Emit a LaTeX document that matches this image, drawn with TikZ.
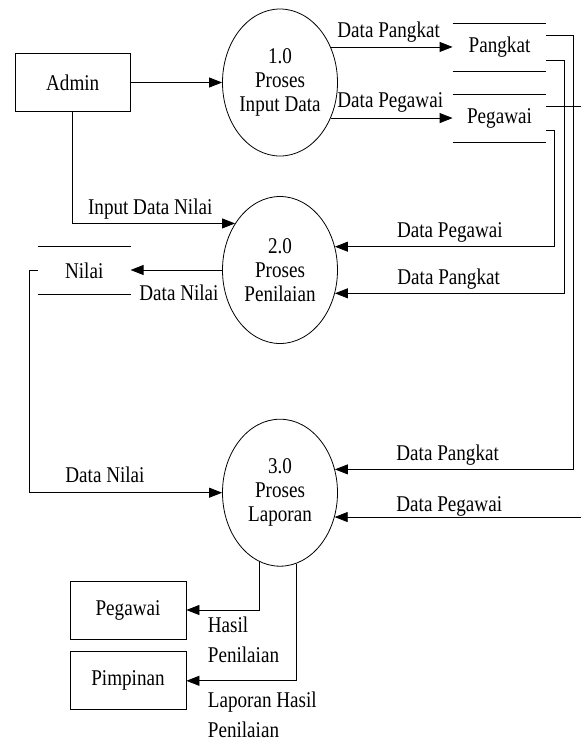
\documentclass[tikz,border=0pt]{standalone}
\usepackage{fontspec}
\setmainfont{Liberation Serif}[FakeStretch=0.85]
\usetikzlibrary{shapes,arrows.meta,positioning}

\begin{document}
\begin{tikzpicture}[x=1pt,y=-1pt,line width=0.8pt,
  >={Triangle[length=13pt,width=10pt]},
  font=\fontsize{22.5}{24}\selectfont,
  entity/.style={draw,minimum width=115pt,minimum height=58pt,inner sep=0pt},
  process/.style={draw,ellipse,minimum width=115pt,minimum height=147pt,inner sep=0pt,align=center},
  store/.style={minimum width=93pt,minimum height=47pt,inner sep=0pt}]
  \tikzstyle{lbl} = [anchor=base west,inner sep=0pt]
  \tikzstyle{lbl2} = [anchor=north west,inner sep=0pt,align=left,font=\fontsize{22.5}{30}\selectfont]
  \useasboundingbox (0,0) rectangle (581,740);
  % entities and processes
  \node (admin) [entity] at (72.7,82.5) {Admin};
  \node (proses1) [process] at (280,82.5) {1.0\\Proses\\Input Data};
  \node (proses2) [process] at (280,270) {2.0\\Proses\\Penilaian};
  \node (proses3) [process] at (280,492.7) {3.0\\Proses\\Laporan};
  \node (pegawaiB) [entity,minimum width=116pt] at (128,610) {Pegawai};
  \node (pimpinan) [entity,minimum width=116pt,below=12pt of pegawaiB] {Pimpinan};
  % data stores
  \node (pangkat) [store] at (499.5,47.5) {Pangkat};
  \node (pegawai) [store,below=23pt of pangkat] {Pegawai};
  \node (nilai) [store,minimum width=92pt] at (84.2,270.5) {Nilai};
  \foreach \s in {pangkat,pegawai,nilai}
    \draw (\s.north west) -- (\s.north east) (\s.south west) -- (\s.south east);
  % flows
  \draw[->] (admin) -- (proses1);
  \draw[->] (proses1.35) -- (proses1.35 -| pangkat.west);
  \draw[->] (proses1.-35) -- (proses1.-35 -| pegawai.west);
  \draw[->] (admin.south) |- (proses2.134);
  \draw[->] (proses2.west) -- (proses2.west -| nilai.east);
  \draw[->] ([yshift=-12pt]pegawai.east) -- ++(8.3,0) |- (proses2.23);
  \draw[->] ([yshift=-12.5pt]pangkat.east) -- ++(17.5,0) |- (proses2.-23);
  \draw[->] ([yshift=12.5pt]pangkat.east) -- ++(27,0) |- (proses3.23);
  \draw[->] ([yshift=11.5pt]pegawai.east) -- ++(34.5,0) |- (proses3.-24);
  \draw[->] (nilai.west) -- ++(-8.3,0) |- (proses3.west);
  \draw[->] (proses3.253) |- (pegawaiB.east);
  \draw[->] (proses3.283) |- (pimpinan.east);
  % flow labels
  \node (lDataPangkat1) [lbl] at (337,37) {Data Pangkat};
  \node (lDataPegawai1) [lbl] at (337,107.3) {Data Pegawai};
  \node (lInputNilai) [lbl] at (87.7,214) {Input Data Nilai};
  \node (lDataNilai1) [lbl] at (139,300.7) {Data Nilai};
  \node (lDataPegawai2) [lbl] at (396.7,237) {Data Pegawai};
  \node (lDataPangkat2) [lbl] at (397,284) {Data Pangkat};
  \node (lDataNilai2) [lbl] at (65,482) {Data Nilai};
  \node (lDataPangkat3) [lbl] at (396,460) {Data Pangkat};
  \node (lDataPegawai3) [lbl] at (396,511.7) {Data Pegawai};
  \node (lHasil) [lbl2] at (207.5,616.3) {Hasil\\Penilaian};
  \node (lLaporan) [lbl2] at (207.5,691.9) {Laporan Hasil\\Penilaian};
\end{tikzpicture}
\end{document}
